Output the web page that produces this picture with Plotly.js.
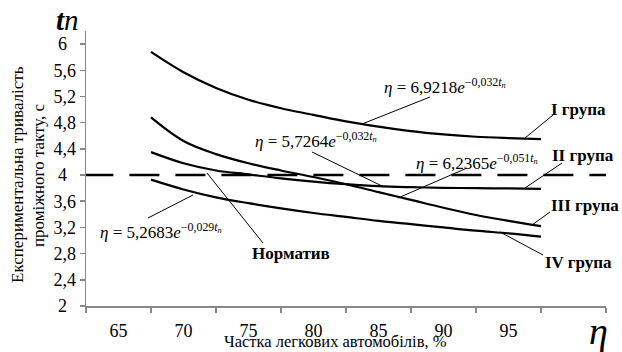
<!DOCTYPE html>
<html>
<head>
<meta charset="utf-8">
<script src="https://cdn.plot.ly/plotly-3.0.1.min.js"></script>
<style>
html,body{margin:0;padding:0;background:#fff;}
#chart{width:622px;height:352px;}
</style>
</head>
<body>
<div id="chart"></div>
<script>
// ---- data ----
const shareX = [67.5, 70, 72.5, 75, 77.5, 80, 82.5, 85, 87.5, 90, 92.5, 95, 97.5];
const group1 = [5.88, 5.57, 5.33, 5.15, 5.02, 4.92, 4.82, 4.74, 4.67, 4.62, 4.585, 4.565, 4.55];
const group2 = [4.35, 4.18, 4.07, 4.01, 3.95, 3.90, 3.86, 3.83, 3.815, 3.805, 3.80, 3.795, 3.79];
const group3 = [4.88, 4.52, 4.32, 4.18, 4.07, 3.97, 3.86, 3.74, 3.62, 3.50, 3.39, 3.30, 3.22];
const group4 = [3.93, 3.78, 3.66, 3.57, 3.49, 3.42, 3.36, 3.30, 3.25, 3.20, 3.15, 3.11, 3.06];
const normX = [62.3, 103];
const normY = [4, 4];
const xTickVals = [65, 70, 75, 80, 85, 90, 95];
const xTickText = ['65', '70', '75', '80', '85', '90', '95'];
const xBoundaries = [62.5, 67.5, 72.5, 77.5, 82.5, 87.5, 92.5, 97.5, 102.5];
const yTickVals = [2, 2.4, 2.8, 3.2, 3.6, 4, 4.4, 4.8, 5.2, 5.6, 6];
const groupNames = ['I група', 'II група', 'III група', 'IV група'];
const normName = 'Норматив';
const equations = [
  '<i>η</i> = 6,9218<i>e</i><sup>−0,032<i>t<sub>n</sub></i></sup>',
  '<i>η</i> = 5,7264<i>e</i><sup>−0,032<i>t<sub>n</sub></i></sup>',
  '<i>η</i> = 6,2365<i>e</i><sup>−0,051<i>t<sub>n</sub></i></sup>',
  '<i>η</i> = 5,2683<i>e</i><sup>−0,029<i>t<sub>n</sub></i></sup>'
];

// ---- geometry helpers (pixel -> data / paper) ----
const L = 86, T = 31, W = 520, H = 275;
const XR = [62.5, 102.5], YR = [2, 6.2];
const dx = px => XR[0] + (px - L) / W * (XR[1] - XR[0]);
const dy = py => YR[0] + (T + H - py) / H * (YR[1] - YR[0]);
const pxp = px => (px - L) / W;
const pyp = py => (T + H - py) / H;

const FONT = 'Liberation Serif, Times New Roman, serif';
const lineStyle = {color: '#000', width: 2.2, shape: 'spline', smoothing: 1};

const traces = [group1, group2, group3, group4].map((g, i) => ({
  x: shareX, y: g, type: 'scatter', mode: 'lines', name: groupNames[i],
  line: lineStyle, hoverinfo: 'skip'
}));
traces.push({
  x: normX, y: normY, type: 'scatter', mode: 'lines', name: normName,
  line: {color: '#000', width: 2.4, dash: '30px,16px'}, cliponaxis: false
});

function lbl(text, px, py, opts) {
  return Object.assign({
    text: text, x: pxp(px), y: pyp(py), xref: 'paper', yref: 'paper',
    showarrow: false, xanchor: 'center', yanchor: 'middle',
    font: {family: FONT, size: 17, color: '#000'}
  }, opts || {});
}

const annotations = [
  lbl(equations[0], 445, 86),
  lbl(equations[1], 316, 140),
  lbl(equations[2], 477, 162),
  lbl(equations[3], 161, 231),
  lbl('<b>' + groupNames[0] + '</b>', 578, 110),
  lbl('<b>' + groupNames[1] + '</b>', 583, 155),
  lbl('<b>' + groupNames[2] + '</b>', 585, 205),
  lbl('<b>' + groupNames[3] + '</b>', 578, 262),
  lbl('<b>' + normName + '</b>', 291, 253),
  lbl('<b><i>t</i></b><i>n</i>', 67, 20, {font: {family: FONT, size: 29, color: '#000'}}),
  lbl('<i>η</i>', 598, 331, {font: {family: FONT, size: 38, color: '#000'}}),
  lbl('Частка легкових автомобілів, %', 335, 341, {font: {family: FONT, size: 16.5, color: '#000'}}),
  lbl('Експериментальна тривалість', 17, 175, {textangle: -90, font: {family: FONT, size: 17, color: '#000'}}),
  lbl('проміжного такту, с', 38, 175, {textangle: -90, font: {family: FONT, size: 17, color: '#000'}})
];

const leaders = [
  [430, 97, 362, 124],
  [312, 152, 382, 186],
  [467, 168, 398, 198],
  [148, 218, 193, 195],
  [553, 115, 525, 138],
  [562, 163, 525, 188],
  [550, 212, 532, 225],
  [543, 255, 500, 232],
  [263, 243, 207, 173]
];
const shapes = leaders.map(s => ({
  type: 'line', xref: 'x', yref: 'y',
  x0: dx(s[0]), y0: dy(s[1]), x1: dx(s[2]), y1: dy(s[3]),
  line: {color: '#000', width: 1}
}));

const yTickText = yTickVals.map(v => Number.isInteger(v) ? v + '\u00a0\u00a0' : String(v).replace('.', ','));

const layout = {
  width: 622, height: 352,
  margin: {l: L, r: 622 - L - W, t: T, b: 352 - T - H, pad: 0},
  paper_bgcolor: '#fff', plot_bgcolor: '#fff',
  showlegend: false,
  font: {family: FONT, size: 17, color: '#000'},
  xaxis: {
    range: XR, showgrid: false, zeroline: false,
    showline: true, linecolor: '#888', linewidth: 1.5,
    tickmode: 'array', tickvals: xTickVals, ticktext: xTickText,
    ticks: '', ticklabelstandoff: 8,
    tickfont: {family: FONT, size: 18, color: '#000'},
    minor: {tickmode: 'array', tickvals: xBoundaries, ticks: 'outside', ticklen: 5, tickwidth: 1.5, tickcolor: '#888', showgrid: false}
  },
  yaxis: {
    range: YR, showgrid: false, zeroline: false,
    showline: true, linecolor: '#888', linewidth: 1.5,
    tickmode: 'array', tickvals: yTickVals, ticktext: yTickText,
    ticks: 'outside', ticklen: 5, tickwidth: 1.5, tickcolor: '#888',
    tickfont: {family: FONT, size: 18, color: '#000'}
  },
  annotations: annotations,
  shapes: shapes
};

Plotly.newPlot('chart', traces, layout, {displayModeBar: false, staticPlot: true});
</script>
</body>
</html>
